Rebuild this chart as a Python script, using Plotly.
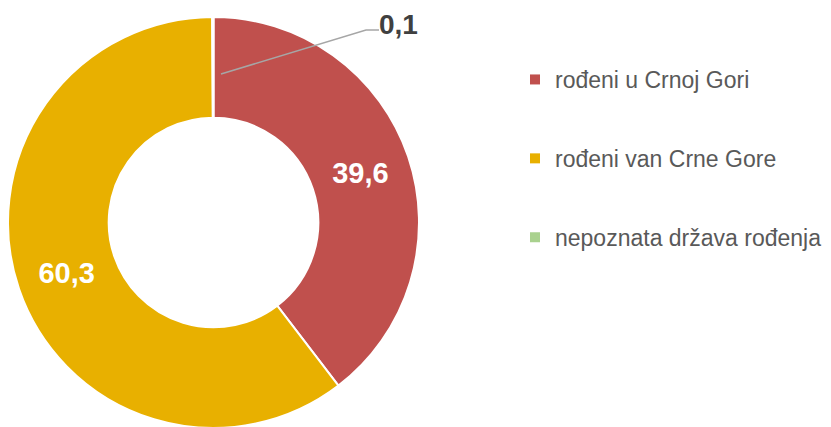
import plotly.graph_objects as go

labels = ["rođeni u Crnoj Gori", "rođeni van Crne Gore", "nepoznata država rođenja"]
values = [39.6, 60.3, 0.1]
text_labels = ["39,6", "60,3", "0,1"]
colors = ["#C0504D", "#E8B000", "#A9D18E"]

W, H = 831, 427
FONT = "Liberation Sans, Arial, sans-serif"

fig = go.Figure()
fig.add_trace(go.Pie(
    labels=labels, values=values, hole=0.51, sort=False, direction="clockwise",
    rotation=0, marker=dict(colors=colors, line=dict(color="white", width=2)),
    text=["<b>" + t + "</b>" if v >= 1 else "" for t, v in zip(text_labels, values)],
    textinfo="text", textposition="inside", insidetextorientation="horizontal",
    textfont=dict(family=FONT, size=29, color="white"),
    domain=dict(x=[0, 411 / W], y=[7 / H, 418 / H]),
    showlegend=False, hoverinfo="label+value",
))

for lab, col in zip(labels, colors):
    fig.add_trace(go.Scatter(
        x=[None], y=[None], mode="markers", name=lab, legendgroup=lab,
        marker=dict(symbol="square", size=10, color=col),
    ))

# small-slice label with leader line
fig.add_annotation(
    x=369 / W, y=1 - 16 / H, xref="paper", yref="paper", text="<b>" + text_labels[2] + "</b>",
    showarrow=False, xanchor="left", yanchor="middle",
    font=dict(family=FONT, size=28, color="#404040"),
)
fig.add_shape(
    type="path", xref="paper", yref="paper",
    path=f"M {213 / W} {1 - 66 / H} L {358 / W} {1 - 22 / H} L {371 / W} {1 - 22 / H}",
    line=dict(color="#A6A6A6", width=1.5),
)

fig.update_layout(
    width=W, height=H, margin=dict(l=0, r=0, t=0, b=0),
    paper_bgcolor="white", plot_bgcolor="white",
    xaxis=dict(visible=False), yaxis=dict(visible=False),
    legend=dict(x=507 / W, y=1 - 50 / H, xanchor="left", yanchor="top",
                font=dict(family=FONT, size=23, color="#595959"),
                tracegroupgap=46, itemwidth=30, bgcolor="rgba(0,0,0,0)"),
)

fig.write_html("out.html")
